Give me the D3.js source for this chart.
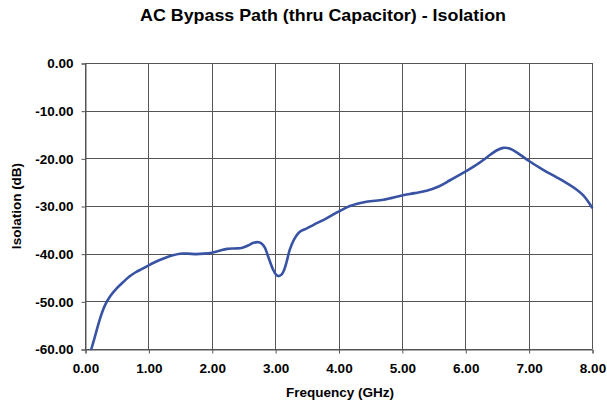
<!DOCTYPE html>
<html>
<head>
<meta charset="utf-8">
<script src="https://cdn.jsdelivr.net/npm/d3@7"></script>
<style>
  html, body { margin: 0; padding: 0; background: #fff; }
  svg { display: block; }
  text { font-family: "Liberation Sans", Arial, Helvetica, sans-serif; font-weight: bold; fill: #000; }
</style>
</head>
<body>
<svg id="chart" width="607" height="404"></svg>
<script>
const title = "AC Bypass Path (thru Capacitor) - Isolation";
const xTitle = "Frequency (GHz)";
const yTitle = "Isolation (dB)";
const xTicks = [0, 1, 2, 3, 4, 5, 6, 7, 8];
const yTicks = [0, -10, -20, -30, -40, -50, -60];

const freq = [0.10, 0.14, 0.19, 0.25, 0.32, 0.40, 0.50, 0.60, 0.70, 0.80, 0.90, 0.97, 1.10, 1.24, 1.37, 1.50, 1.62, 1.76, 1.88, 2.00, 2.12, 2.24, 2.36, 2.47, 2.57, 2.66, 2.74, 2.79, 2.84, 2.89, 2.97, 3.02, 3.06, 3.10, 3.13, 3.18, 3.23, 3.30, 3.39, 3.50, 3.60, 3.81, 4.00, 4.18, 4.44, 4.71, 5.00, 5.20, 5.39, 5.58, 5.76, 6.00, 6.15, 6.29, 6.40, 6.50, 6.60, 6.71, 6.85, 7.00, 7.23, 7.50, 7.76, 7.87, 8.00];
const isolation = [-60.0, -58.2, -55.8, -53.1, -50.7, -48.9, -47.3, -46.0, -44.8, -43.9, -43.2, -42.7, -41.8, -41.0, -40.4, -40.0, -40.0, -40.1, -40.0, -39.8, -39.4, -39.0, -38.9, -38.8, -38.3, -37.7, -37.6, -37.9, -38.8, -40.6, -43.4, -44.5, -44.7, -44.4, -43.8, -41.8, -39.2, -37.0, -35.4, -34.7, -34.0, -32.6, -31.2, -30.0, -29.1, -28.7, -27.8, -27.3, -26.8, -25.9, -24.6, -22.8, -21.6, -20.3, -19.2, -18.3, -17.8, -18.0, -19.1, -20.5, -22.4, -24.4, -26.6, -27.9, -30.3];

const data = freq.map((f, i) => ({ f, v: isolation[i] }));

const mLeft = 85, mRight = 592, mTop = 63, mBottom = 349;
const svg = d3.select("#chart");

const x = d3.scaleLinear().domain([0, 8]).range([mLeft, mRight]);
const y = d3.scaleLinear().domain([-60, 0]).range([mBottom, mTop]);

const gridColor = "#555";
const fmt = d => d3.format(".2f")(d).replace("\u2212", "-");

// horizontal gridlines
svg.append("g").selectAll("line").data(yTicks).join("line")
  .attr("x1", mLeft).attr("x2", mRight)
  .attr("y1", d => Math.round(y(d)) + 0.5).attr("y2", d => Math.round(y(d)) + 0.5)
  .attr("stroke", gridColor).attr("stroke-width", 1);

// vertical gridlines
svg.append("g").selectAll("line").data(xTicks).join("line")
  .attr("y1", mTop).attr("y2", mBottom)
  .attr("x1", d => Math.round(x(d)) + 0.5).attr("x2", d => Math.round(x(d)) + 0.5)
  .attr("stroke", gridColor).attr("stroke-width", 1);

// Y axis
const yAxis = d3.axisLeft(y).tickValues(yTicks).tickSize(4).tickPadding(8).tickFormat(fmt);
const gy = svg.append("g").attr("transform", `translate(${mLeft + 0.5},0.5)`).call(yAxis);
gy.select(".domain").attr("stroke", gridColor);
gy.selectAll(".tick line").attr("stroke", gridColor);
gy.selectAll(".tick text").attr("font-size", "13.5px").attr("font-weight", "bold")
  .attr("font-family", "'Liberation Sans', Arial, sans-serif").attr("fill", "#000");

// X axis
const xAxis = d3.axisBottom(x).tickValues(xTicks).tickSize(4).tickPadding(10).tickFormat(fmt);
const gx = svg.append("g").attr("transform", `translate(0.5,${mBottom + 0.5})`).call(xAxis);
gx.select(".domain").attr("stroke", gridColor);
gx.selectAll(".tick line").attr("stroke", gridColor);
gx.selectAll(".tick text").attr("font-size", "13.5px").attr("font-weight", "bold")
  .attr("font-family", "'Liberation Sans', Arial, sans-serif").attr("fill", "#000");

// line
const line = d3.line().x(d => x(d.f)).y(d => y(d.v)).curve(d3.curveCatmullRom.alpha(0.5));
svg.append("path").datum(data)
  .attr("d", line)
  .attr("fill", "none")
  .attr("stroke", "#3953a4")
  .attr("stroke-width", 2.6)
  .attr("stroke-linejoin", "round")
  .attr("stroke-linecap", "round");

// titles
svg.append("text").attr("x", 140).attr("y", 21)
  .attr("font-size", "17px")
  .attr("textLength", 366).attr("lengthAdjust", "spacingAndGlyphs")
  .text(title);
svg.append("text").attr("x", 340).attr("y", 397).attr("text-anchor", "middle")
  .attr("font-size", "13.5px").text(xTitle);
svg.append("text").attr("transform", "translate(21,206) rotate(-90)").attr("text-anchor", "middle")
  .attr("font-size", "13.5px").text(yTitle);
</script>
</body>
</html>
